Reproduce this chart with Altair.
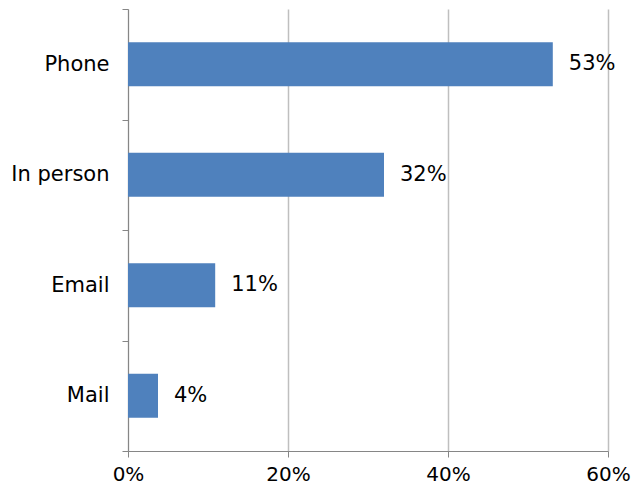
import altair as alt
import pandas as pd

categories = ["Phone", "In person", "Email", "Mail"]
shares = [0.531, 0.32, 0.109, 0.0375]
labels = ["53%", "32%", "11%", "4%"]

df = pd.DataFrame({"channel": categories, "share": shares, "label": labels})

FONT = "DejaVu Sans"

y_enc = alt.Y(
    "channel:N",
    sort=categories,
    title=None,
    scale=alt.Scale(paddingInner=0, paddingOuter=0),
    axis=alt.Axis(
        tickBand="extent",
        domainColor="#868686",
        tickColor="#868686",
        tickSize=6,
        labelPadding=13,
        labelFontSize=21,
        labelFont=FONT,
        labelColor="#000000",
        grid=False,
    ),
)

x_enc = alt.X(
    "share:Q",
    title=None,
    scale=alt.Scale(domain=[0, 0.6], nice=False),
    axis=alt.Axis(
        values=[0, 0.2, 0.4, 0.6],
        format=".0%",
        labelFlush=False,
        domainColor="#868686",
        tickColor="#868686",
        tickSize=6,
        labelPadding=7,
        labelFontSize=20,
        labelFont=FONT,
        labelColor="#000000",
        gridColor="#BFBFBF",
        gridWidth=1.5,
    ),
)

bars = alt.Chart(df).mark_bar(size=44, color="#4F81BD").encode(x=x_enc, y=y_enc)

text = alt.Chart(df).mark_text(
    align="left", baseline="middle", dx=16, fontSize=21, font=FONT, color="#000000"
).encode(x="share:Q", y=alt.Y("channel:N", sort=categories), text="label:N")

chart = (
    alt.layer(bars, text)
    .properties(
        width=480,
        height=442,
        autosize=alt.AutoSizeParams(type="none"),
        padding={"left": 120, "top": 1, "right": 24, "bottom": 34},
    )
    .configure_view(stroke=None)
)

chart.save("out.html", embed_options={"renderer": "svg", "actions": False})
